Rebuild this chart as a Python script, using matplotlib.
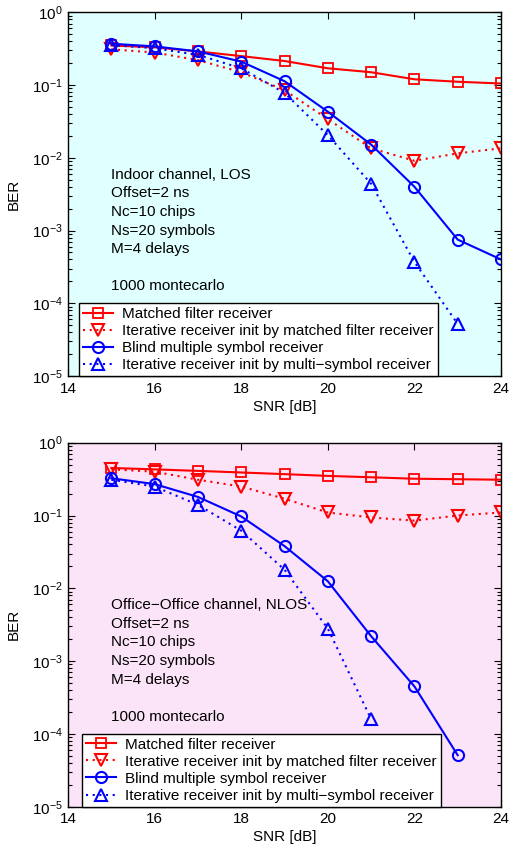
import matplotlib
matplotlib.use("Agg")
import matplotlib.pyplot as plt
from matplotlib.ticker import LogLocator, FixedLocator, NullFormatter

plt.rcParams['font.family'] = ['Liberation Sans', 'DejaVu Sans']
plt.rcParams['mathtext.fontset'] = 'custom'
plt.rcParams['mathtext.rm'] = 'Liberation Sans'

snr = [15, 16, 17, 18, 19, 20, 21, 22, 23, 24]

# Top panel: Indoor channel, LOS
top_mf = [0.35, 0.33, 0.29, 0.25, 0.214, 0.17, 0.15, 0.12, 0.111, 0.105]
top_iter_mf = [0.31, 0.28, 0.22, 0.15, 0.085, 0.034, 0.0135, 0.0091, 0.0115, 0.0135]
top_blind = [0.37, 0.34, 0.29, 0.21, 0.113, 0.043, 0.0152, 0.004, 0.00075, 0.0004]
top_iter_ms = [0.355, 0.32, 0.26, 0.17, 0.078, 0.0205, 0.0044, 0.00037, 0.000052]

# Bottom panel: Office-Office channel, NLOS
bot_mf = [0.45, 0.43, 0.41, 0.39, 0.37, 0.35, 0.335, 0.32, 0.315, 0.31]
bot_iter_mf = [0.43, 0.40, 0.31, 0.25, 0.17, 0.11, 0.094, 0.085, 0.10, 0.11]
bot_blind = [0.325, 0.27, 0.18, 0.097, 0.038, 0.0125, 0.0022, 0.00045, 0.000051]
bot_iter_ms = [0.31, 0.25, 0.14, 0.062, 0.018, 0.0028, 0.00016]

labels = ["Matched filter receiver",
          "Iterative receiver init by matched filter receiver",
          "Blind multiple symbol receiver",
          "Iterative receiver init by multi\u2212symbol receiver"]

top_text = ["Indoor channel, LOS", "Offset=2 ns", "Nc=10 chips",
            "Ns=20 symbols", "M=4 delays", "", "1000 montecarlo"]
bot_text = ["Office\u2212Office channel, NLOS", "Offset=2 ns", "Nc=10 chips",
            "Ns=20 symbols", "M=4 delays", "", "1000 montecarlo"]

xticks = [14, 16, 18, 20, 22, 24]

W, H = 511, 848
fig = plt.figure(figsize=(W / 100, H / 100), dpi=100)

def px_axes(l, r, t, b):
    return [l / W, 1 - b / H, (r - l) / W, (b - t) / H]

panels = [
    (px_axes(68, 501, 12.3, 376), '#e0ffff', top_mf, top_iter_mf, top_blind, top_iter_ms, top_text, 0.025),
    (px_axes(68, 501, 442.7, 806.7), '#fce4f8', bot_mf, bot_iter_mf, bot_blind, bot_iter_ms, bot_text, 0.032),
]

FS = 11
for rect, bg, mf, imf, bl, ims, txt, lx in panels:
    ax = fig.add_axes(rect)
    ax.set_facecolor(bg)
    ax.set_yscale('log')
    ax.plot(snr[:len(mf)], mf, color='red', lw=1.5, marker='s', ms=7,
            mfc='none', mec='red', mew=1.3, label=labels[0])
    ax.plot(snr[:len(imf)], imf, color='red', lw=1.5, ls=(0, (1, 2.2)), marker='v', ms=8,
            mfc='none', mec='red', mew=1.5, label=labels[1])
    ax.plot(snr[:len(bl)], bl, color='blue', lw=1.5, marker='o', ms=8,
            mfc='none', mec='blue', mew=1.5, label=labels[2])
    ax.plot(snr[:len(ims)], ims, color='blue', lw=1.5, ls=(0, (1, 2.2)), marker='^', ms=8,
            mfc='none', mec='blue', mew=1.5, label=labels[3])
    ax.set_xlim(14, 24)
    ax.set_ylim(1e-5, 1)
    ax.xaxis.set_major_locator(FixedLocator(xticks))
    ax.yaxis.set_major_locator(LogLocator(base=10, numticks=10))
    ax.yaxis.set_minor_locator(LogLocator(base=10, subs=range(2, 10), numticks=20))
    ax.yaxis.set_minor_formatter(NullFormatter())
    ax.tick_params(which='both', direction='in', top=True, right=True,
                   labelsize=FS, width=0.8)
    ax.tick_params(which='major', length=5, pad=4)
    ax.tick_params(which='minor', length=3)
    for s in ax.spines.values():
        s.set_linewidth(1.0)
    ax.set_xlabel("SNR [dB]", fontsize=FS, labelpad=3)
    ax.set_ylabel("BER", fontsize=FS, labelpad=8)
    ax.text(15, 7.3e-3, "\n".join(txt), fontsize=FS, va='top', ha='left',
            linespacing=1.42)
    leg = ax.legend(loc='lower left', bbox_to_anchor=(lx, 0.0), borderaxespad=0,
                    fontsize=FS, fancybox=False, framealpha=1, edgecolor='black',
                    handlelength=2.0, handletextpad=0.6, labelspacing=0.2,
                    borderpad=0.25)
    leg.get_frame().set_linewidth(1.0)

fig.savefig("out.png", dpi=100)
